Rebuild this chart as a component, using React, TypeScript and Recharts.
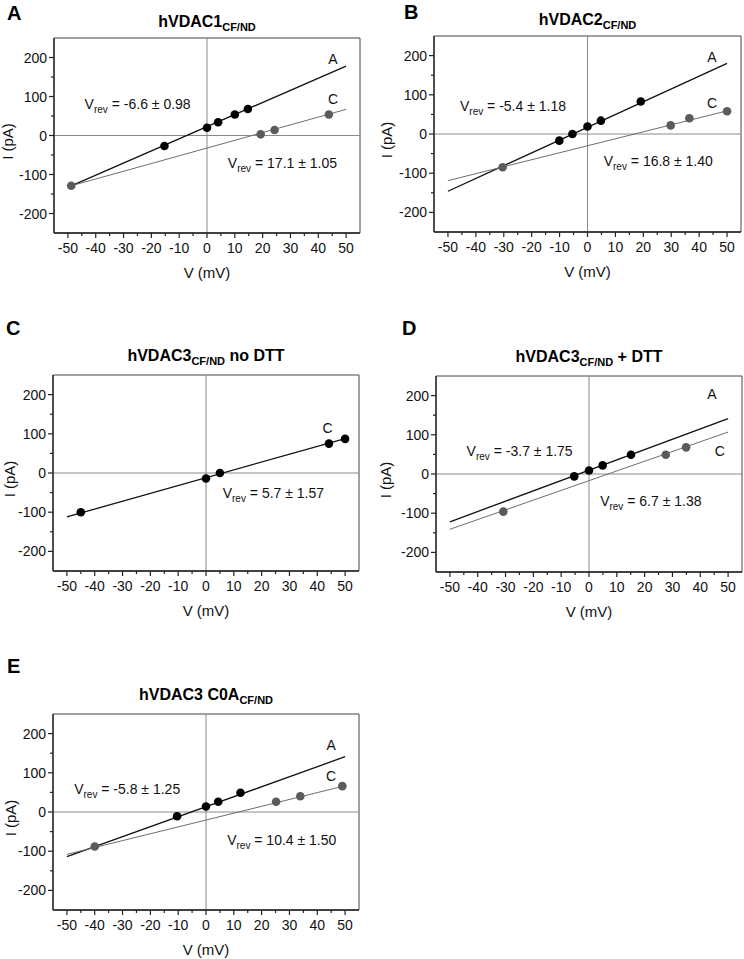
import React from "react";
import {
  ScatterChart,
  Scatter,
  XAxis,
  YAxis,
  ReferenceLine,
  ReferenceArea,
  ReferenceDot,
} from "recharts";

const FONT = "'Liberation Sans', Arial, Helvetica, sans-serif";

// axes shared by every panel
const xTicks = [-50, -45, -40, -35, -30, -25, -20, -15, -10, -5, 0, 5, 10, 15, 20, 25, 30, 35, 40, 45, 50];
const yTicks = [-200, -150, -100, -50, 0, 50, 100, 150, 200];
const xDomain = [-55, 55];
const yDomain = [-250, 250];

// A: hVDAC1
const aPtsA = [
  { x: -15.3, y: -27 },
  { x: 0, y: 20 },
  { x: 4, y: 34 },
  { x: 10, y: 54 },
  { x: 14.7, y: 68 },
];
const aPtsC = [
  { x: -48.8, y: -129 },
  { x: 19.3, y: 3 },
  { x: 24.3, y: 14 },
  { x: 43.8, y: 54 },
];
const aFitA = [{ x: -48.8, y: -129 }, { x: 50, y: 178 }];
const aFitC = [{ x: -48.8, y: -129 }, { x: 50, y: 67 }];

// B: hVDAC2
const bPtsA = [
  { x: -10.1, y: -17 },
  { x: -5.4, y: 0 },
  { x: 0, y: 19 },
  { x: 4.8, y: 34 },
  { x: 19.1, y: 83 },
];
const bPtsC = [
  { x: -30.4, y: -85 },
  { x: 29.8, y: 22 },
  { x: 36.5, y: 40 },
  { x: 50, y: 58 },
];
const bFitA = [{ x: -50, y: -146 }, { x: 50, y: 180 }];
const bFitC = [{ x: -50, y: -119 }, { x: 50, y: 59 }];

// C: hVDAC3 no DTT
const cPtsC = [
  { x: -45, y: -100 },
  { x: 0, y: -14 },
  { x: 5, y: 0 },
  { x: 44.2, y: 75 },
  { x: 50, y: 87 },
];
const cFitC = [{ x: -50, y: -112 }, { x: 50, y: 88 }];

// D: hVDAC3 + DTT
const dPtsA = [
  { x: -5.3, y: -6 },
  { x: 0, y: 9 },
  { x: 4.9, y: 22 },
  { x: 15.1, y: 49 },
];
const dPtsC = [
  { x: -30.8, y: -96 },
  { x: 27.6, y: 49 },
  { x: 34.9, y: 68 },
];
const dFitA = [{ x: -50, y: -122 }, { x: 50, y: 141 }];
const dFitC = [{ x: -50, y: -141 }, { x: 50, y: 107 }];

// E: hVDAC3 C0A
const ePtsA = [
  { x: -10.4, y: -11 },
  { x: 0, y: 14 },
  { x: 4.4, y: 26 },
  { x: 12.4, y: 49 },
];
const ePtsC = [
  { x: -40, y: -88 },
  { x: 25.2, y: 26 },
  { x: 33.9, y: 40 },
  { x: 49, y: 66 },
];
const eFitA = [{ x: -50, y: -114 }, { x: 50, y: 141 }];
const eFitC = [{ x: -50, y: -108 }, { x: 50, y: 67 }];

// annotations (data coordinates)
const aNotes = [
  { x: 45.3, y: 196, label: "A" },
  { x: 45.3, y: 94, label: "C" },
];
const aVrev = [
  { x: -44, y: 81, value: "-6.6 ± 0.98" },
  { x: 7.5, y: -70, value: "17.1 ± 1.05" },
];
const bNotes = [
  { x: 44.6, y: 196, label: "A" },
  { x: 44.6, y: 80, label: "C" },
];
const bVrev = [
  { x: -45.7, y: 71, value: "-5.4 ± 1.18" },
  { x: 5.8, y: -69, value: "16.8 ± 1.40" },
];
const cNotes = [{ x: 43.7, y: 115, label: "C" }];
const cVrev = [{ x: 6, y: -51, value: "5.7 ± 1.57" }];
const dNotes = [
  { x: 44.2, y: 203, label: "A" },
  { x: 47, y: 59, label: "C" },
];
const dVrev = [
  { x: -44, y: 59, value: "-3.7 ± 1.75" },
  { x: 4, y: -69, value: "6.7 ± 1.38" },
];
const eNotes = [
  { x: 45, y: 170, label: "A" },
  { x: 45, y: 92, label: "C" },
];
const eVrev = [
  { x: -47.4, y: 58, value: "-5.8 ± 1.25" },
  { x: 7.6, y: -71, value: "10.4 ± 1.50" },
];

const BLACK = "#000";
const GRAY = "#5b5b5b";

function XTick(props: any) {
  const { x, y, payload } = props;
  const v = payload.value;
  const major = v % 10 === 0;
  return (
    <g>
      <line x1={x} x2={x} y1={y} y2={y + (major ? 5 : 3)} stroke="#222" strokeWidth={1.2} />
      {major && (
        <text x={x} y={y + 20} textAnchor="middle" fontSize={14} fill="#111" fontFamily={FONT}>
          {v}
        </text>
      )}
    </g>
  );
}

function YTick(props: any) {
  const { x, y, payload } = props;
  const v = payload.value;
  const major = v % 100 === 0;
  return (
    <g>
      <line x1={x - (major ? 5 : 3)} x2={x} y1={y} y2={y} stroke="#222" strokeWidth={1.2} />
      {major && (
        <text x={x - 7} y={y} dy="0.36em" textAnchor="end" fontSize={14} fill="#111" fontFamily={FONT}>
          {v}
        </text>
      )}
    </g>
  );
}

type Series = { pts: { x: number; y: number }[]; fit: { x: number; y: number }[]; color: string; lineColor: string; lw: number };

function Panel({
  box,
  series,
  notes,
  vrev,
}: {
  box: { L: number; T: number; R: number; B: number };
  series: Series[];
  notes: { x: number; y: number; label: string }[];
  vrev: { x: number; y: number; value: string }[];
}) {
  const w = box.R - box.L + 43;
  const h = box.B - box.T + 40;
  return (
    <div style={{ position: "absolute", left: box.L - 40, top: box.T - 10 }}>
      <ScatterChart width={w} height={h} margin={{ top: 10, right: 3, left: 10, bottom: 0 }}>
        <XAxis
          type="number"
          dataKey="x"
          domain={xDomain}
          ticks={xTicks}
          interval={0}
          allowDataOverflow
          height={30}
          tickSize={0}
          tickMargin={0}
          tickLine={false}
          tick={<XTick />}
          axisLine={{ stroke: "#222", strokeWidth: 1.3 }}
        />
        <YAxis
          type="number"
          dataKey="y"
          domain={yDomain}
          ticks={yTicks}
          interval={0}
          allowDataOverflow
          width={30}
          tickSize={0}
          tickMargin={0}
          tickLine={false}
          tick={<YTick />}
          axisLine={{ stroke: "#222", strokeWidth: 1.3 }}
        />
        <ReferenceArea
          x1={xDomain[0]}
          x2={xDomain[1]}
          y1={yDomain[0]}
          y2={yDomain[1]}
          fill="none"
          stroke="#444"
          strokeWidth={1}
        />
        <ReferenceLine x={0} stroke="#8a8a8a" strokeWidth={1} />
        <ReferenceLine y={0} stroke="#8a8a8a" strokeWidth={1} />
        {series.map((s, i) => (
          <Scatter
            key={"fit" + i}
            data={s.fit}
            line={{ stroke: s.lineColor, strokeWidth: s.lw }}
            shape={() => <g />}
            isAnimationActive={false}
          />
        ))}
        {series.map((s, i) => (
          <Scatter
            key={"pts" + i}
            data={s.pts}
            shape={(p: any) => <circle cx={p.cx} cy={p.cy} r={4.3} fill={s.color} />}
            isAnimationActive={false}
          />
        ))}
        {notes.map((n, i) => (
          <ReferenceDot
            key={"n" + i}
            x={n.x}
            y={n.y}
            r={0}
            ifOverflow="visible"
            shape={(p: any) => (
              <text x={p.cx} y={p.cy} dy="0.36em" textAnchor="middle" fontSize={14} fill="#111" fontFamily={FONT}>
                {n.label}
              </text>
            )}
          />
        ))}
        {vrev.map((n, i) => (
          <ReferenceDot
            key={"v" + i}
            x={n.x}
            y={n.y}
            r={0}
            ifOverflow="visible"
            shape={(p: any) => (
              <text x={p.cx} y={p.cy + 5} fontSize={14} fill="#111" fontFamily={FONT}>
                V
                <tspan fontSize={10} dy={4}>
                  rev
                </tspan>
                <tspan dy={-4}>{" = " + n.value}</tspan>
              </text>
            )}
          />
        ))}
      </ScatterChart>
    </div>
  );
}

const boxes = {
  A: { L: 54, T: 38, R: 360, B: 233 },
  B: { L: 434, T: 36, R: 741, B: 232 },
  C: { L: 53, T: 375, R: 359, B: 571 },
  D: { L: 436, T: 376, R: 742, B: 572 },
  E: { L: 53, T: 714, R: 359, B: 910 },
};

const titles = [
  { box: "A", main: "hVDAC1", sub: "CF/ND", tail: "", y: 27 },
  { box: "B", main: "hVDAC2", sub: "CF/ND", tail: "", y: 25 },
  { box: "C", main: "hVDAC3", sub: "CF/ND", tail: " no DTT", y: 361 },
  { box: "D", main: "hVDAC3", sub: "CF/ND", tail: " + DTT", y: 362 },
  { box: "E", main: "hVDAC3 C0A", sub: "CF/ND", tail: "", y: 700 },
];

const letters = [
  { text: "A", x: 7, y: 20 },
  { text: "B", x: 404, y: 19 },
  { text: "C", x: 6, y: 335 },
  { text: "D", x: 402, y: 335 },
  { text: "E", x: 7, y: 673 },
];

const yNameX: Record<string, number> = { A: 8, B: 387, C: 10, D: 386, E: 11 };

export default function App() {
  const panels: { key: keyof typeof boxes; series: Series[]; notes: any[]; vrev: any[] }[] = [
    {
      key: "A",
      series: [
        { pts: aPtsA, fit: aFitA, color: BLACK, lineColor: "#111", lw: 1.3 },
        { pts: aPtsC, fit: aFitC, color: GRAY, lineColor: "#6e6e6e", lw: 1 },
      ],
      notes: aNotes,
      vrev: aVrev,
    },
    {
      key: "B",
      series: [
        { pts: bPtsA, fit: bFitA, color: BLACK, lineColor: "#111", lw: 1.3 },
        { pts: bPtsC, fit: bFitC, color: GRAY, lineColor: "#6e6e6e", lw: 1 },
      ],
      notes: bNotes,
      vrev: bVrev,
    },
    {
      key: "C",
      series: [{ pts: cPtsC, fit: cFitC, color: BLACK, lineColor: "#111", lw: 1.3 }],
      notes: cNotes,
      vrev: cVrev,
    },
    {
      key: "D",
      series: [
        { pts: dPtsA, fit: dFitA, color: BLACK, lineColor: "#111", lw: 1.3 },
        { pts: dPtsC, fit: dFitC, color: GRAY, lineColor: "#6e6e6e", lw: 1 },
      ],
      notes: dNotes,
      vrev: dVrev,
    },
    {
      key: "E",
      series: [
        { pts: ePtsA, fit: eFitA, color: BLACK, lineColor: "#111", lw: 1.3 },
        { pts: ePtsC, fit: eFitC, color: GRAY, lineColor: "#6e6e6e", lw: 1 },
      ],
      notes: eNotes,
      vrev: eVrev,
    },
  ];

  return (
    <div
      style={{
        position: "absolute",
        left: 0,
        top: 0,
        width: 744,
        height: 959,
        background: "#fff",
        overflow: "hidden",
        fontFamily: FONT,
      }}
    >
      {panels.map((p) => (
        <Panel key={p.key} box={boxes[p.key]} series={p.series} notes={p.notes} vrev={p.vrev} />
      ))}
      <svg
        width={744}
        height={959}
        style={{ position: "absolute", left: 0, top: 0, pointerEvents: "none" }}
        fontFamily={FONT}
      >
        {letters.map((l) => (
          <text key={l.text} x={l.x} y={l.y} fontSize={20} fontWeight="bold" fill="#000">
            {l.text}
          </text>
        ))}
        {titles.map((t) => {
          const b = boxes[t.box as keyof typeof boxes];
          return (
            <text
              key={t.box}
              x={(b.L + b.R) / 2}
              y={t.y}
              textAnchor="middle"
              fontSize={16}
              fontWeight="bold"
              fill="#000"
            >
              {t.main}
              <tspan fontSize={11} dy={4}>
                {t.sub}
              </tspan>
              {t.tail && <tspan dy={-4}>{t.tail}</tspan>}
            </text>
          );
        })}
        {(Object.keys(boxes) as (keyof typeof boxes)[]).map((k) => {
          const b = boxes[k];
          const cx = (b.L + b.R) / 2;
          const cy = (b.T + b.B) / 2 + 6;
          return (
            <g key={"ax" + k}>
              <text x={cx} y={b.B + 45} textAnchor="middle" fontSize={15} fill="#111">
                V (mV)
              </text>
              <text
                transform={`translate(${yNameX[k] + 5}, ${cy}) rotate(-90)`}
                textAnchor="middle"
                fontSize={15}
                fill="#111"
              >
                I (pA)
              </text>
            </g>
          );
        })}
      </svg>
    </div>
  );
}
